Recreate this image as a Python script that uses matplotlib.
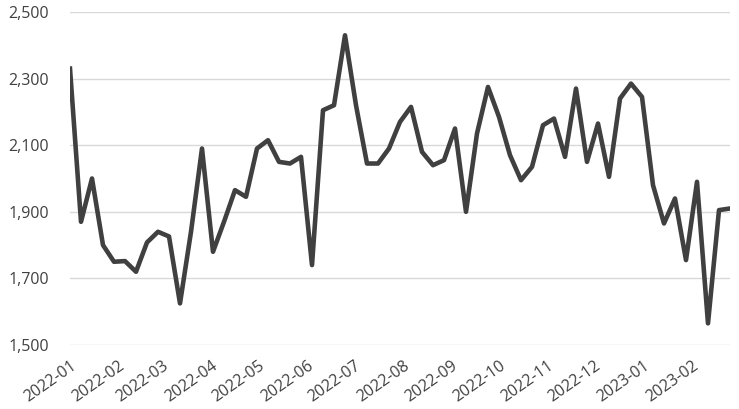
import numpy as np
import pandas as pd
import matplotlib
matplotlib.use('Agg')
import matplotlib.pyplot as plt
import matplotlib.dates as mdates
from matplotlib.ticker import FuncFormatter

# Datos semanales
Fechas = pd.date_range('2022-01-07', periods = 61, freq = '7D')
Valores = [2330, 1870, 2000, 1800, 1750, 1752, 1720, 1808, 1840, 1826,
           1625, 1840, 2090, 1780, 1870, 1965, 1945, 2090, 2115, 2050,
           2045, 2065, 1740, 2205, 2220, 2430, 2220, 2045, 2045, 2090,
           2170, 2215, 2080, 2040, 2055, 2150, 1900, 2135, 2275, 2185,
           2070, 1995, 2035, 2160, 2180, 2065, 2270, 2050, 2165, 2005,
           2240, 2285, 2245, 1980, 1865, 1940, 1755, 1990, 1565, 1905,
           1910]
Y_ticks = [1500, 1700, 1900, 2100, 2300, 2500]

plt.rcParams['font.family'] = ['Open Sans', 'DejaVu Sans']

fig = plt.figure(figsize = (7.39, 4.09), dpi = 100)
ax = fig.add_axes([70/739, 1 - 345/409, 660/739, 333/409])

ax.plot(Fechas, Valores, color = '#404040', linewidth = 3.3, solid_joinstyle = 'round')

ax.set_xlim(Fechas[0], Fechas[-1])
ax.set_ylim(1500, 2500)
ax.set_yticks(Y_ticks)
ax.yaxis.set_major_formatter(FuncFormatter(lambda v, p: '{:,.0f}'.format(v)))
ax.xaxis.set_major_locator(mdates.MonthLocator(bymonthday = 7))
ax.xaxis.set_major_formatter(mdates.DateFormatter('%Y-%m'))

ax.grid(axis = 'y', color = '#d9d9d9', linewidth = 1.0)
ax.set_axisbelow(True)
for s in ax.spines.values():
    s.set_visible(False)
ax.tick_params(axis = 'both', length = 0, colors = '#404040')
ax.tick_params(axis = 'y', pad = 15, labelsize = 11.5)
ax.tick_params(axis = 'x', pad = 9.5, labelsize = 11.5)
plt.setp(ax.get_xticklabels(), rotation = 35, ha = 'right', va = 'top', rotation_mode = 'anchor')

fig.savefig('out.png', dpi = 100)
